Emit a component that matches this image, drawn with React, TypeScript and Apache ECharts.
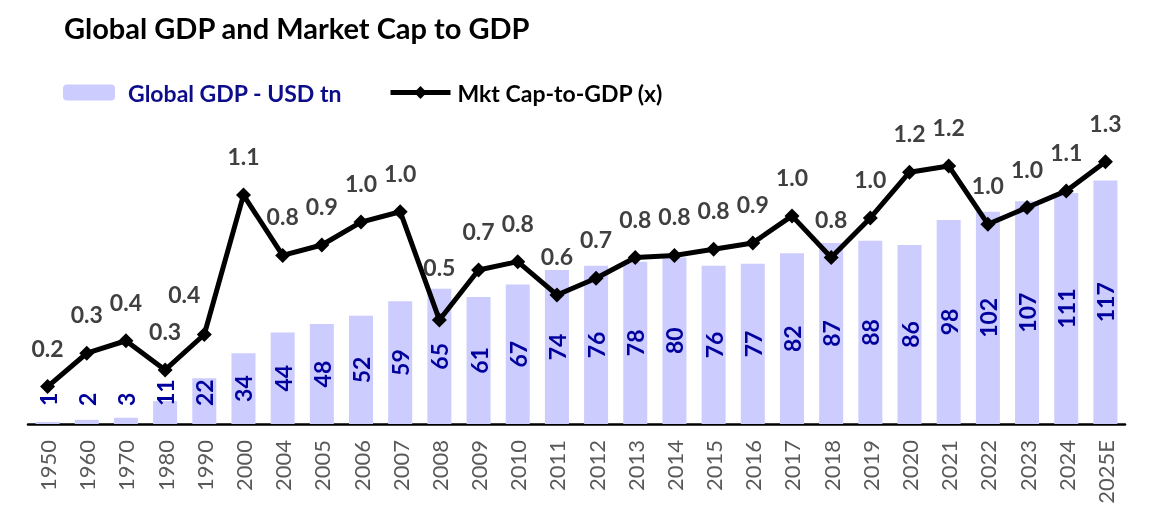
import React, { useEffect, useRef } from "react";
import * as echarts from "echarts";

const years = ["1950","1960","1970","1980","1990","2000","2004","2005","2006","2007","2008","2009","2010","2011","2012","2013","2014","2015","2016","2017","2018","2019","2020","2021","2022","2023","2024","2025E"];
const gdp = [1,2,3,11,22,34,44,48,52,59,65,61,67,74,76,78,80,76,77,82,87,88,86,98,102,107,111,117];
const mktCapToGdp = [0.18,0.34,0.4,0.26,0.43,1.1,0.81,0.86,0.97,1.02,0.5,0.74,0.78,0.62,0.7,0.8,0.81,0.84,0.87,1.0,0.8,0.99,1.21,1.24,0.96,1.04,1.12,1.26];

const FONT = "Lato, 'Open Sans', sans-serif";

export default function App() {
  const ref = useRef<HTMLDivElement>(null);
  useEffect(() => {
    if (!ref.current) return;
    const chart = echarts.init(ref.current, undefined, { renderer: "svg" });
    const barData = gdp.map((v) =>
      v < 30
        ? {
            value: v,
            label: { position: "insideBottom", distance: 18, align: "left", verticalAlign: "middle" },
          }
        : v
    );
    const lineData = mktCapToGdp.map((v, i) => {
      if (years[i] === "2008") return { value: v, label: { distance: 34 } };
      if (years[i] === "1990") return { value: v, label: { offset: [-20, -2] } };
      return v;
    });
    chart.setOption({
      animation: false,
      textStyle: { fontFamily: FONT },
      title: {
        text: "Global GDP and Market Cap to GDP",
        left: 59,
        top: 8,
        textStyle: { fontFamily: FONT, fontWeight: "bold", fontSize: 29, color: "#000" },
      },
      legend: [
        {
          left: 58,
          top: 76,
          itemWidth: 52,
          itemHeight: 16,
          data: [{ name: "Global GDP - USD tn", textStyle: { color: "#0d0d8c" } }],
          textStyle: { fontFamily: FONT, fontWeight: "bold", fontSize: 23, padding: [0, 0, 0, 8] },
        },
        {
          left: 383,
          top: 76,
          itemWidth: 60,
          itemHeight: 16,
          lineStyle: { width: 5, color: "#000" },
          data: [{ name: "Mkt Cap-to-GDP (x)", textStyle: { color: "#000" } }],
          textStyle: { fontFamily: FONT, fontWeight: "bold", fontSize: 23, padding: [0, 0, 0, 2] },
        },
      ],
      grid: { left: 28, right: 49, top: 91, bottom: 99 },
      xAxis: {
        type: "category",
        data: years,
        axisTick: { show: false },
        axisLine: { lineStyle: { color: "#000", width: 2.5 } },
        axisLabel: {
          rotate: 90,
          interval: 0,
          margin: 16,
          fontFamily: FONT,
          fontSize: 22,
          color: "#595959",
        },
      },
      yAxis: [
        { type: "value", min: 0, max: 160, show: false, splitLine: { show: false } },
        { type: "value", min: 0, max: 1.6, show: false, splitLine: { show: false } },
      ],
      series: [
        {
          name: "Global GDP - USD tn",
          type: "bar",
          data: barData,
          barWidth: 24,
          itemStyle: { color: "#ccccff" },
          label: {
            show: true,
            position: "inside",
            rotate: 90,
            fontFamily: FONT,
            fontWeight: "bold",
            fontSize: 23,
            color: "#00009c",
          },
        },
        {
          name: "Mkt Cap-to-GDP (x)",
          type: "line",
          yAxisIndex: 1,
          data: lineData,
          symbol: "diamond",
          symbolSize: 15,
          lineStyle: { color: "#000", width: 5 },
          itemStyle: { color: "#000" },
          label: {
            show: true,
            position: "top",
            distance: 20,
            fontFamily: FONT,
            fontWeight: "bold",
            fontSize: 23,
            color: "#404040",
            formatter: (p: any) => Number(p.value).toFixed(1),
          },
        },
      ],
    });
    return () => chart.dispose();
  }, []);
  return <div ref={ref} style={{ position: "fixed", left: 0, top: 0, width: 1174, height: 523 }} />;
}
